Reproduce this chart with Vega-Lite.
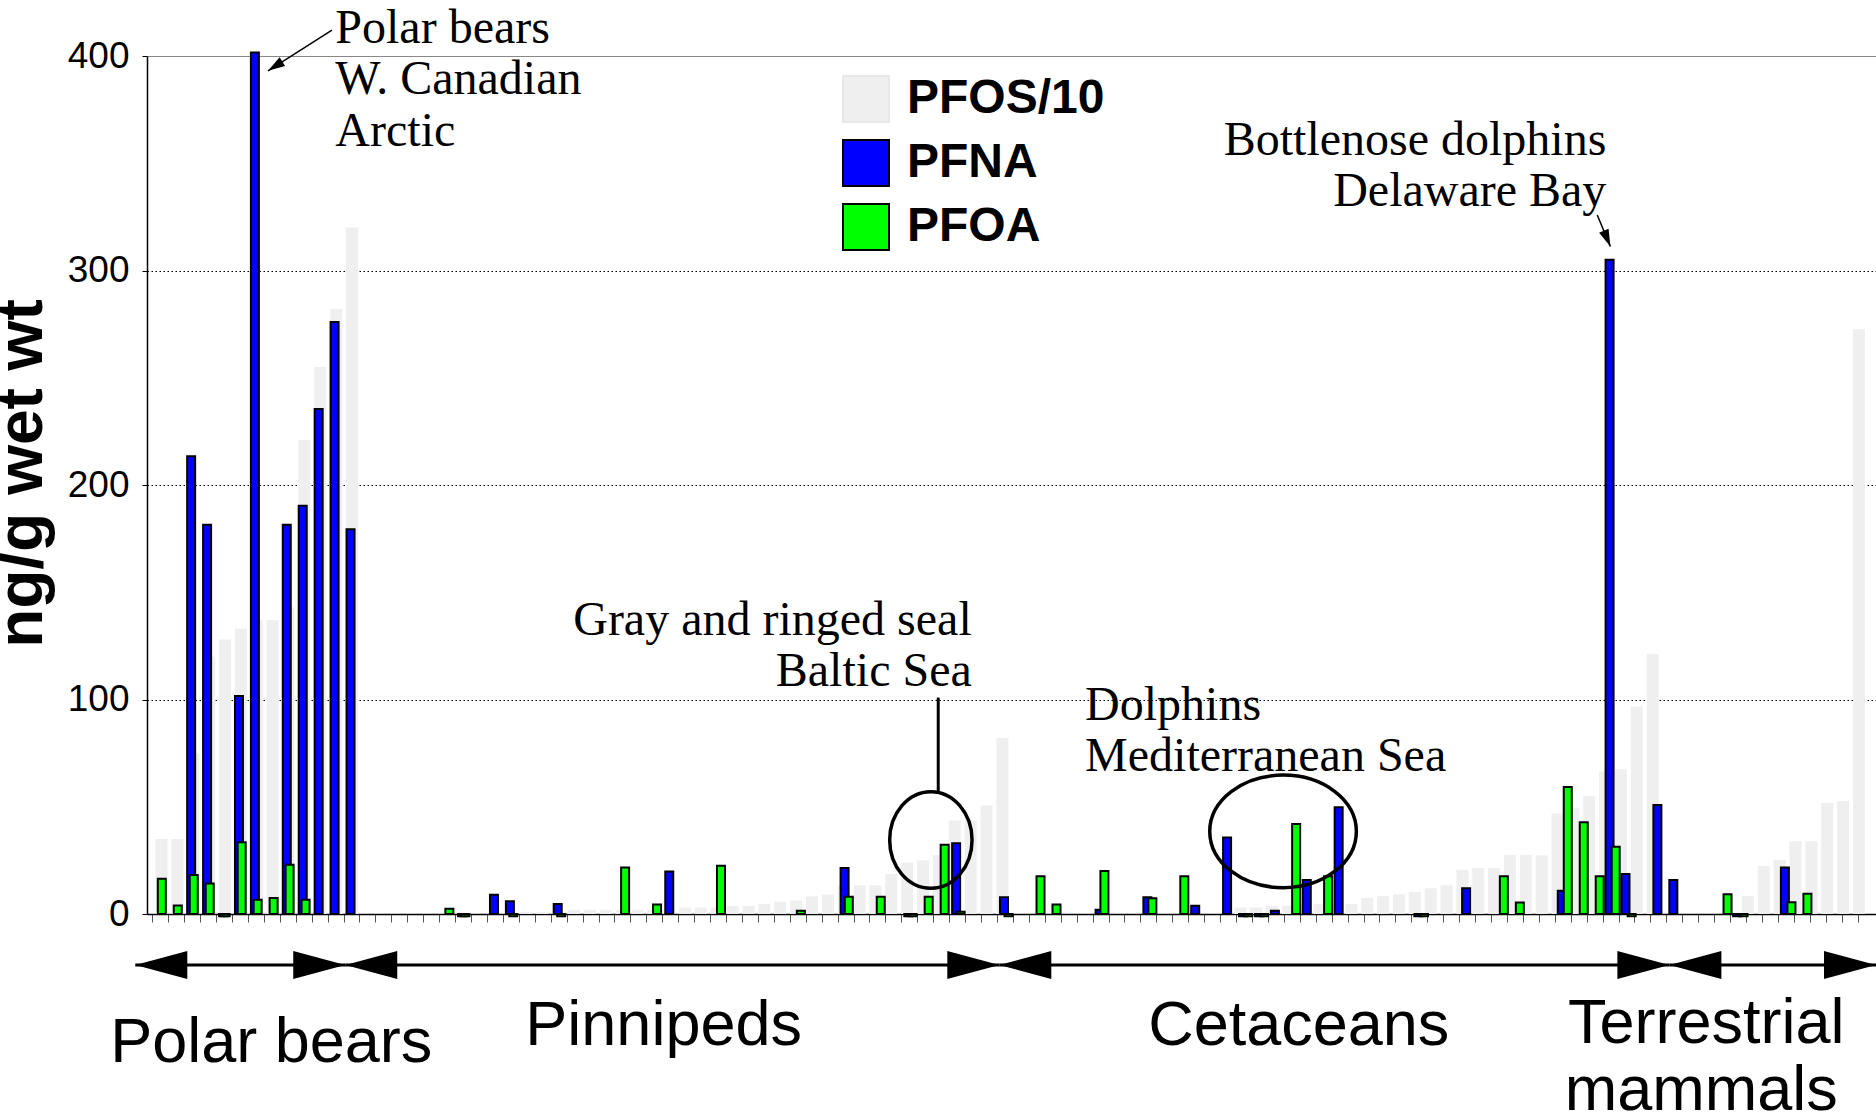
{
  "$schema": "https://vega.github.io/schema/vega-lite/v6.json",
  "width": 1729,
  "height": 858,
  "autosize": {"type": "none"},
  "padding": {"left": 147, "top": 56, "right": 0, "bottom": 206},
  "background": "white",
  "config": {
    "view": {"stroke": null},
    "font": "Liberation Sans",
    "legend": {
      "orient": "none",
      "legendX": 695,
      "legendY": 19,
      "symbolType": "square",
      "symbolSize": 2116,
      "symbolStrokeWidth": 2,
      "symbolOpacity": 1,
      "labelFont": "Liberation Sans",
      "labelFontSize": 48,
      "labelFontWeight": "bold",
      "labelColor": "black",
      "labelLimit": 400,
      "labelOffset": 17,
      "rowPadding": 10,
      "padding": 0
    }
  },
  "datasets": {
    "pf": [
      {"n": 1, "PFOS/10": 35, "PFOA": 16.4},
      {"n": 2, "PFOS/10": 35, "PFOA": 4},
      {"n": 3, "PFOS/10": 75, "PFNA": 213.4, "PFOA": 18.2},
      {"n": 4, "PFOS/10": 120, "PFNA": 181.5, "PFOA": 14.2},
      {"n": 5, "PFOS/10": 128, "PFNA": -1, "PFOA": -1},
      {"n": 6, "PFOS/10": 133, "PFNA": 101.6, "PFOA": 33.5},
      {"n": 7, "PFOS/10": 137, "PFNA": 401.6, "PFOA": 6.7},
      {"n": 8, "PFOS/10": 137, "PFOA": 7.5},
      {"n": 9, "PFOS/10": 143, "PFNA": 181.5, "PFOA": 23},
      {"n": 10, "PFOS/10": 221, "PFNA": 190.3, "PFOA": 6.7},
      {"n": 11, "PFOS/10": 255, "PFNA": 235.4},
      {"n": 12, "PFOS/10": 282, "PFNA": 276},
      {"n": 13, "PFOS/10": 320, "PFNA": 179.4},
      {"n": 19, "PFOA": 2.4},
      {"n": 20, "PFNA": -1, "PFOA": -1},
      {"n": 22, "PFNA": 9},
      {"n": 23, "PFNA": 6, "PFOA": -1},
      {"n": 24, "PFOS/10": 1},
      {"n": 25, "PFOS/10": 1},
      {"n": 26, "PFOS/10": 1, "PFNA": 4.7, "PFOA": -1},
      {"n": 27, "PFOS/10": 2},
      {"n": 28, "PFOS/10": 2},
      {"n": 29, "PFOS/10": 2},
      {"n": 30, "PFOS/10": 2, "PFOA": 21.7},
      {"n": 31, "PFOS/10": 2},
      {"n": 32, "PFOS/10": 2, "PFOA": 4.4},
      {"n": 33, "PFOS/10": 2, "PFNA": 19.8},
      {"n": 34, "PFOS/10": 3},
      {"n": 35, "PFOS/10": 3},
      {"n": 36, "PFOS/10": 3, "PFOA": 22.5},
      {"n": 37, "PFOS/10": 3.8},
      {"n": 38, "PFOS/10": 3.8},
      {"n": 39, "PFOS/10": 4.7},
      {"n": 40, "PFOS/10": 5.7},
      {"n": 41, "PFOS/10": 6.2, "PFOA": 1.5},
      {"n": 42, "PFOS/10": 8.2},
      {"n": 43, "PFOS/10": 9},
      {"n": 44, "PFOS/10": 13, "PFNA": 21.5, "PFOA": 8},
      {"n": 45, "PFOS/10": 13.4},
      {"n": 46, "PFOS/10": 13.4, "PFOA": 8},
      {"n": 47, "PFOS/10": 18.7},
      {"n": 48, "PFOS/10": 24, "PFNA": -1, "PFOA": -1},
      {"n": 49, "PFOS/10": 25, "PFOA": 8.1},
      {"n": 50, "PFOS/10": 27.4, "PFOA": 32.3},
      {"n": 51, "PFOS/10": 43.6, "PFNA": 33, "PFOA": 1},
      {"n": 52, "PFOS/10": 43.6},
      {"n": 53, "PFOS/10": 50.6},
      {"n": 54, "PFOS/10": 82, "PFNA": 7.8, "PFOA": -1},
      {"n": 56, "PFOA": 17.6},
      {"n": 57, "PFOA": 4.4},
      {"n": 60, "PFNA": 2, "PFOA": 20},
      {"n": 63, "PFNA": 7.8, "PFOA": 7.4},
      {"n": 65, "PFOA": 17.6},
      {"n": 66, "PFNA": 3.8},
      {"n": 68, "PFNA": 35.7},
      {"n": 69, "PFOS/10": 3, "PFNA": -1, "PFOA": -1},
      {"n": 70, "PFOS/10": 3, "PFNA": -1, "PFOA": -1},
      {"n": 71, "PFOS/10": 3.8, "PFNA": 1.5},
      {"n": 72, "PFOS/10": 3.8, "PFOA": 41.9},
      {"n": 73, "PFOS/10": 4.7, "PFNA": 15.9},
      {"n": 74, "PFOS/10": 4.7, "PFOA": 17.6},
      {"n": 75, "PFOS/10": 4.7, "PFNA": 49.8},
      {"n": 76, "PFOS/10": 4.7},
      {"n": 77, "PFOS/10": 7.5},
      {"n": 78, "PFOS/10": 8.3},
      {"n": 79, "PFOS/10": 9.2},
      {"n": 80, "PFOS/10": 10.2, "PFNA": -1, "PFOA": -1},
      {"n": 81, "PFOS/10": 12},
      {"n": 82, "PFOS/10": 13.4},
      {"n": 83, "PFOS/10": 20.6, "PFNA": 12},
      {"n": 84, "PFOS/10": 21.4},
      {"n": 85, "PFOS/10": 21.4, "PFOA": 17.6},
      {"n": 86, "PFOS/10": 27.6, "PFOA": 5.4},
      {"n": 87, "PFOS/10": 27.6},
      {"n": 88, "PFOS/10": 27.3},
      {"n": 89, "PFOS/10": 47, "PFNA": 10.8, "PFOA": 59.2},
      {"n": 90, "PFOS/10": 49.5, "PFOA": 42.8},
      {"n": 91, "PFOS/10": 55, "PFOA": 17.6},
      {"n": 92, "PFOS/10": 66.6, "PFNA": 305, "PFOA": 31.3},
      {"n": 93, "PFOS/10": 67.5, "PFNA": 18.7, "PFOA": -1},
      {"n": 94, "PFOS/10": 96.6},
      {"n": 95, "PFOS/10": 121.2, "PFNA": 50.8},
      {"n": 96, "PFNA": 15.8},
      {"n": 99, "PFOA": 9.2},
      {"n": 100, "PFNA": -1, "PFOA": -1},
      {"n": 101, "PFOS/10": 8.4},
      {"n": 102, "PFOS/10": 22.4},
      {"n": 103, "PFOS/10": 25.3, "PFNA": 21.7, "PFOA": 5.5},
      {"n": 104, "PFOS/10": 33.9, "PFOA": 9.4},
      {"n": 105, "PFOS/10": 33.9},
      {"n": 106, "PFOS/10": 51.8},
      {"n": 107, "PFOS/10": 52.7},
      {"n": 108, "PFOS/10": 272.6}
    ],
    "spans": [
      {"group": "Polar bears", "n": -0.25, "n2": 12.85, "value": -23.8},
      {"group": "Pinnipeds", "n": 12.85, "n2": 53.65, "value": -23.8},
      {"group": "Cetaceans", "n": 53.65, "n2": 95.45, "value": -23.8},
      {"group": "Terrestrial mammals", "n": 95.45, "n2": 108.34, "value": -23.8}
    ]
  },
  "resolve": {"scale": {"x": "independent"}, "axis": {"x": "independent", "y": "independent"}},
  "layer": [
    {
      "data": {"name": "pf"},
      "transform": [
        {"fold": ["PFOS/10", "PFNA", "PFOA"], "as": ["series", "value"]},
        {"filter": {"field": "series", "equal": "PFOS/10"}}
      ],
      "mark": {"type": "bar", "width": 12},
      "encoding": {
        "x": {"field": "n", "type": "quantitative", "scale": {"domain": [0.392, 108.76], "nice": false, "zero": false}, "axis": null},
        "y": {
          "field": "value", "type": "quantitative",
          "scale": {"domain": [0, 400], "nice": false},
          "axis": {
            "values": [0, 100, 200, 300, 400],
            "title": "ng/g wet wt",
            "titleFont": "Liberation Sans", "titleFontSize": 64, "titleFontWeight": "bold", "titleColor": "black",
            "titleAngle": -90, "titleAlign": "center", "titleBaseline": "middle",
            "titleX": -125, "titleY": 417,
            "labelFont": "Liberation Sans", "labelFontSize": 37, "labelColor": "black", "labelPadding": 13,
            "tickSize": 5, "tickColor": "black", "tickWidth": 1,
            "domain": true, "domainColor": "black", "domainWidth": 1.5,
            "grid": true, "gridWidth": 1.2,
            "gridColor": {"condition": {"test": "datum.value === 400", "value": "#888888"}, "value": "black"},
            "gridDash": {"condition": {"test": "datum.value === 400", "value": []}, "value": [1.5, 2.5]}
          }
        },
        "fill": {
          "field": "series", "type": "nominal",
          "scale": {"domain": ["PFOS/10", "PFNA", "PFOA"], "range": ["#efefef", "#0000ff", "#00ff00"]},
          "legend": {
            "title": null,
            "encode": {"symbols": {"update": {"fill": [
              {"test": "datum.value === 'PFOS/10'", "value": "#e8e8e8"},
              {"test": "datum.value === 'PFNA'", "value": "#3333cc"},
              {"value": "#00ff00"}
            ]}}}
          }
        }
      }
    },
    {
      "data": {"name": "pf"},
      "transform": [
        {"fold": ["PFOS/10", "PFNA", "PFOA"], "as": ["series", "value"]},
        {"filter": {"field": "series", "equal": "PFNA"}}
      ],
      "mark": {"type": "bar", "width": 8, "strokeWidth": 2, "xOffset": -1},
      "encoding": {
        "x": {
          "field": "n", "type": "quantitative",
          "scale": {"domain": [0.481, 108.34], "nice": false, "zero": false},
          "axis": {
            "values": [0.5,1.5,2.5,3.5,4.5,5.5,6.5,7.5,8.5,9.5,10.5,11.5,12.5,13.5,14.5,15.5,16.5,17.5,18.5,19.5,20.5,21.5,22.5,23.5,24.5,25.5,26.5,27.5,28.5,29.5,30.5,31.5,32.5,33.5,34.5,35.5,36.5,37.5,38.5,39.5,40.5,41.5,42.5,43.5,44.5,45.5,46.5,47.5,48.5,49.5,50.5,51.5,52.5,53.5,54.5,55.5,56.5,57.5,58.5,59.5,60.5,61.5,62.5,63.5,64.5,65.5,66.5,67.5,68.5,69.5,70.5,71.5,72.5,73.5,74.5,75.5,76.5,77.5,78.5,79.5,80.5,81.5,82.5,83.5,84.5,85.5,86.5,87.5,88.5,89.5,90.5,91.5,92.5,93.5,94.5,95.5,96.5,97.5,98.5,99.5,100.5,101.5,102.5,103.5,104.5,105.5,106.5,107.5],
            "labels": false, "title": null, "grid": false,
            "domain": true, "domainColor": "black", "domainWidth": 1.5,
            "ticks": true, "tickSize": 8, "tickColor": "#555555", "tickWidth": 1
          }
        },
        "y": {"field": "value", "type": "quantitative", "scale": {"domain": [0, 400], "nice": false}, "axis": null},
        "fill": {"field": "series", "type": "nominal", "scale": {"domain": ["PFOS/10", "PFNA", "PFOA"], "range": ["#efefef", "#0000ff", "#00ff00"]}, "legend": {"title": null}},
        "stroke": {"field": "series", "type": "nominal", "scale": {"domain": ["PFOS/10", "PFNA", "PFOA"], "range": ["#e8e8e8", "#000000", "#000000"]}, "legend": {"title": null}}
      }
    },
    {
      "data": {"name": "pf"},
      "transform": [
        {"fold": ["PFOS/10", "PFNA", "PFOA"], "as": ["series", "value"]},
        {"filter": {"field": "series", "equal": "PFOA"}}
      ],
      "mark": {"type": "bar", "width": 8, "strokeWidth": 2},
      "encoding": {
        "x": {"field": "n", "type": "quantitative", "scale": {"domain": [0.387, 107.98], "nice": false, "zero": false}, "axis": null},
        "y": {"field": "value", "type": "quantitative", "scale": {"domain": [0, 400], "nice": false}, "axis": null},
        "fill": {"field": "series", "type": "nominal", "scale": {"domain": ["PFOS/10", "PFNA", "PFOA"], "range": ["#efefef", "#0000ff", "#00ff00"]}, "legend": {"title": null}},
        "stroke": {"field": "series", "type": "nominal", "scale": {"domain": ["PFOS/10", "PFNA", "PFOA"], "range": ["#e8e8e8", "#000000", "#000000"]}, "legend": {"title": null}}
      }
    },
    {
      "data": {"name": "spans"},
      "layer": [
        {
          "mark": {"type": "rule", "strokeWidth": 3, "color": "black"},
          "encoding": {
            "x": {"field": "n", "type": "quantitative", "scale": {"domain": [0.481, 108.34], "nice": false, "zero": false}, "axis": null},
            "x2": {"field": "n2"},
            "y": {"field": "value", "type": "quantitative", "scale": {"domain": [0, 400], "nice": false}, "axis": null}
          }
        },
        {
          "mark": {"type": "point", "shape": "M0,0 L2,-0.54 L2,0.54 Z", "size": 2704, "filled": true, "color": "black", "opacity": 1, "strokeWidth": 0},
          "encoding": {
            "x": {"field": "n", "type": "quantitative", "scale": {"domain": [0.481, 108.34], "nice": false, "zero": false}, "axis": null},
            "y": {"field": "value", "type": "quantitative", "scale": {"domain": [0, 400], "nice": false}, "axis": null}
          }
        },
        {
          "mark": {"type": "point", "shape": "M0,0 L-2,-0.54 L-2,0.54 Z", "size": 2704, "filled": true, "color": "black", "opacity": 1, "strokeWidth": 0},
          "encoding": {
            "x": {"field": "n2", "type": "quantitative", "scale": {"domain": [0.481, 108.34], "nice": false, "zero": false}, "axis": null},
            "y": {"field": "value", "type": "quantitative", "scale": {"domain": [0, 400], "nice": false}, "axis": null}
          }
        }
      ]
    },
    {
      "data": {"values": [{"n": 49.84, "value": 100.9, "value2": 56.9}]},
      "mark": {"type": "rule", "strokeWidth": 3, "color": "black"},
      "encoding": {
        "x": {"field": "n", "type": "quantitative", "scale": {"domain": [0.481, 108.34], "nice": false, "zero": false}, "axis": null},
        "y": {"field": "value", "type": "quantitative", "scale": {"domain": [0, 400], "nice": false}, "axis": null},
        "y2": {"field": "value2"}
      }
    },
    {
      "data": {"values": [{"n": 12.02, "value": 412.1, "n2": 8.03, "value2": 393.1}]},
      "layer": [
        {
          "mark": {"type": "rule", "strokeWidth": 1.5, "color": "black"},
          "encoding": {
            "x": {"field": "n", "type": "quantitative", "scale": {"domain": [0.481, 108.34], "nice": false, "zero": false}, "axis": null},
            "x2": {"field": "n2"},
            "y": {"field": "value", "type": "quantitative", "scale": {"domain": [0, 400], "nice": false}, "axis": null},
            "y2": {"field": "value2"}
          }
        },
        {
          "mark": {"type": "point", "shape": "M0,0 L-2,-0.6 L-2,0.6 Z", "size": 289, "angle": 147.5, "filled": true, "color": "black", "opacity": 1, "strokeWidth": 0},
          "encoding": {
            "x": {"field": "n2", "type": "quantitative", "scale": {"domain": [0.481, 108.34], "nice": false, "zero": false}, "axis": null},
            "y": {"field": "value2", "type": "quantitative", "scale": {"domain": [0, 400], "nice": false}, "axis": null}
          }
        }
      ]
    },
    {
      "data": {"values": [{"n": 90.95, "value": 325.9, "n2": 91.77, "value2": 311.2}]},
      "layer": [
        {
          "mark": {"type": "rule", "strokeWidth": 1.5, "color": "black"},
          "encoding": {
            "x": {"field": "n", "type": "quantitative", "scale": {"domain": [0.481, 108.34], "nice": false, "zero": false}, "axis": null},
            "x2": {"field": "n2"},
            "y": {"field": "value", "type": "quantitative", "scale": {"domain": [0, 400], "nice": false}, "axis": null},
            "y2": {"field": "value2"}
          }
        },
        {
          "mark": {"type": "point", "shape": "M0,0 L-2,-0.6 L-2,0.6 Z", "size": 289, "angle": 67.4, "filled": true, "color": "black", "opacity": 1, "strokeWidth": 0},
          "encoding": {
            "x": {"field": "n2", "type": "quantitative", "scale": {"domain": [0.481, 108.34], "nice": false, "zero": false}, "axis": null},
            "y": {"field": "value2", "type": "quantitative", "scale": {"domain": [0, 400], "nice": false}, "axis": null}
          }
        }
      ]
    },
    {
      "data": {"values": [{"n": 49.38, "value": 34.5}]},
      "mark": {"type": "point", "shape": "M1,0 C1,0.647 0.552,1.172 0,1.172 C-0.552,1.172 -1,0.647 -1,0 C-1,-0.647 -0.552,-1.172 0,-1.172 C0.552,-1.172 1,-0.647 1,0 Z", "size": 6790, "filled": false, "stroke": "black", "strokeWidth": 3.5, "opacity": 1},
      "encoding": {
        "x": {"field": "n", "type": "quantitative", "scale": {"domain": [0.481, 108.34], "nice": false, "zero": false}, "axis": null},
        "y": {"field": "value", "type": "quantitative", "scale": {"domain": [0, 400], "nice": false}, "axis": null}
      }
    },
    {
      "data": {"values": [{"n": 71.35, "value": 38.5}]},
      "mark": {"type": "point", "shape": "M1,0 C1,0.424 0.552,0.768 0,0.768 C-0.552,0.768 -1,0.424 -1,0 C-1,-0.424 -0.552,-0.768 0,-0.768 C0.552,-0.768 1,-0.424 1,0 Z", "size": 21492, "filled": false, "stroke": "black", "strokeWidth": 3.5, "opacity": 1},
      "encoding": {
        "x": {"field": "n", "type": "quantitative", "scale": {"domain": [0.481, 108.34], "nice": false, "zero": false}, "axis": null},
        "y": {"field": "value", "type": "quantitative", "scale": {"domain": [0, 400], "nice": false}, "axis": null}
      }
    },
    {
      "data": {"values": [
        {"n": 12.23, "value": 405.9, "label": "Polar bears"},
        {"n": 12.23, "value": 382.1, "label": "W. Canadian"},
        {"n": 12.23, "value": 358, "label": "Arctic"},
        {"n": 59.0, "value": 90.6, "label": "Dolphins"},
        {"n": 59.0, "value": 66.7, "label": "Mediterranean Sea"}
      ]},
      "mark": {"type": "text", "font": "Liberation Serif", "fontSize": 48, "align": "left", "baseline": "alphabetic", "color": "black"},
      "encoding": {
        "x": {"field": "n", "type": "quantitative", "scale": {"domain": [0.481, 108.34], "nice": false, "zero": false}, "axis": null},
        "y": {"field": "value", "type": "quantitative", "scale": {"domain": [0, 400], "nice": false}, "axis": null},
        "text": {"field": "label"}
      }
    },
    {
      "data": {"values": [
        {"n": 91.52, "value": 353.8, "label": "Bottlenose dolphins"},
        {"n": 91.52, "value": 329.9, "label": "Delaware Bay"},
        {"n": 51.93, "value": 130.2, "label": "Gray and ringed seal"},
        {"n": 51.93, "value": 106.2, "label": "Baltic Sea"}
      ]},
      "mark": {"type": "text", "font": "Liberation Serif", "fontSize": 48, "align": "right", "baseline": "alphabetic", "color": "black"},
      "encoding": {
        "x": {"field": "n", "type": "quantitative", "scale": {"domain": [0.481, 108.34], "nice": false, "zero": false}, "axis": null},
        "y": {"field": "value", "type": "quantitative", "scale": {"domain": [0, 400], "nice": false}, "axis": null},
        "text": {"field": "label"}
      }
    },
    {
      "data": {"values": [
        {"n": 8.23, "value": -68.9, "label": "Polar bears"},
        {"n": 32.71, "value": -61.3, "label": "Pinnipeds"},
        {"n": 72.33, "value": -61.3, "label": "Cetaceans"},
        {"n": 97.75, "value": -60.1, "label": "Terrestrial"},
        {"n": 97.44, "value": -91.4, "label": "mammals"}
      ]},
      "mark": {"type": "text", "font": "Liberation Sans", "fontSize": 63, "align": "center", "baseline": "alphabetic", "color": "black"},
      "encoding": {
        "x": {"field": "n", "type": "quantitative", "scale": {"domain": [0.481, 108.34], "nice": false, "zero": false}, "axis": null},
        "y": {"field": "value", "type": "quantitative", "scale": {"domain": [0, 400], "nice": false}, "axis": null},
        "text": {"field": "label"}
      }
    }
  ]
}
